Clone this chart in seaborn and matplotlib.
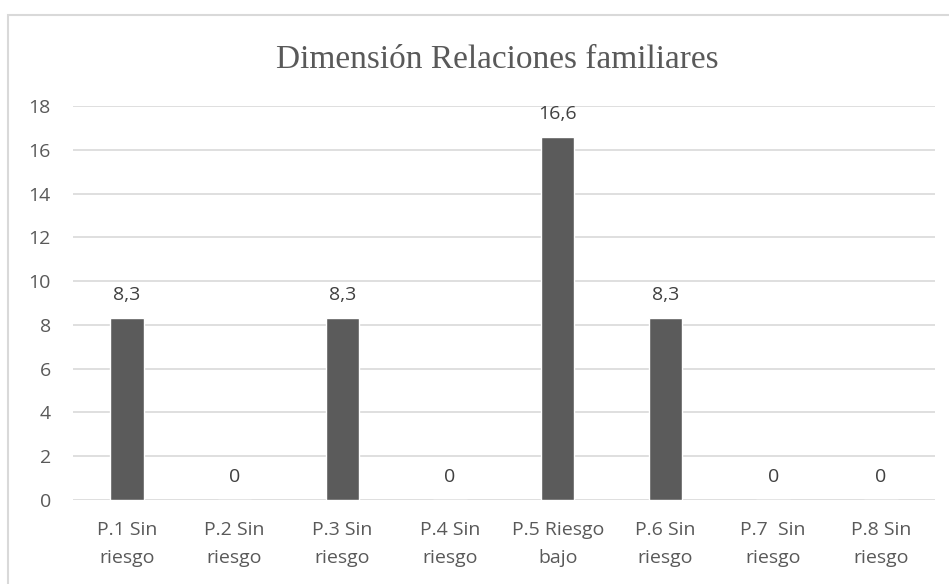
import matplotlib.pyplot as plt
import seaborn as sns
import pandas as pd
from matplotlib.patches import Rectangle

sns.set_theme(style="white")
plt.rcParams["font.family"] = ["Open Sans", "DejaVu Sans"]

# Datos
categorias = [
    "P.1 Sin\nriesgo", "P.2 Sin\nriesgo", "P.3 Sin\nriesgo", "P.4 Sin\nriesgo",
    "P.5 Riesgo\nbajo", "P.6 Sin\nriesgo", "P.7  Sin\nriesgo", "P.8 Sin\nriesgo",
]
valores = [8.3, 0, 8.3, 0, 16.6, 8.3, 0, 0]
etiquetas = ["8,3", "0", "8,3", "0", "16,6", "8,3", "0", "0"]
titulo = "Dimensión Relaciones familiares"

df = pd.DataFrame({"cat": categorias, "val": valores})

GRIS_TEXTO = "#595959"
GRIS_BARRA = "#5b5b5b"
GRIS_GRID = "#d9d9d9"

fig = plt.figure(figsize=(9.49, 5.84), dpi=100)
ax = fig.add_axes([0.0769, 0.1438, 0.9081, 0.6747])

sns.barplot(data=df, x="cat", y="val", color=GRIS_BARRA, width=0.31,
            saturation=1, ax=ax, zorder=3)

ax.set_ylim(0, 18)
ax.set_yticks(range(0, 19, 2))
ax.yaxis.grid(True, color=GRIS_GRID, linewidth=1.2, zorder=0)
ax.set_axisbelow(True)
for s in ax.spines.values():
    s.set_visible(False)
ax.set_xlabel("")
ax.set_ylabel("")
ax.tick_params(axis="both", length=0, colors=GRIS_TEXTO, labelsize=14)
ax.tick_params(axis="y", pad=16)
ax.tick_params(axis="x", pad=15)
for lbl in ax.get_xticklabels():
    lbl.set_linespacing(1.7)

# Etiquetas de datos
for i, (v, t) in enumerate(zip(valores, etiquetas)):
    ax.annotate(t, (i, v), xytext=(0, 10), textcoords="offset points",
                ha="center", va="bottom", fontsize=14, color="#404040")

fig.text(497 / 949, 1 - 60 / 584, titulo, ha="center", va="center",
         fontsize=24, color=GRIS_TEXTO, family="Liberation Serif")

# Borde del gráfico
fig.patches.append(Rectangle((8 / 949, -0.05), 1.0, 1.05 - 15 / 584,
                             transform=fig.transFigure, fill=False,
                             edgecolor=GRIS_GRID, linewidth=1.5))

fig.savefig("out.png", dpi=100)
